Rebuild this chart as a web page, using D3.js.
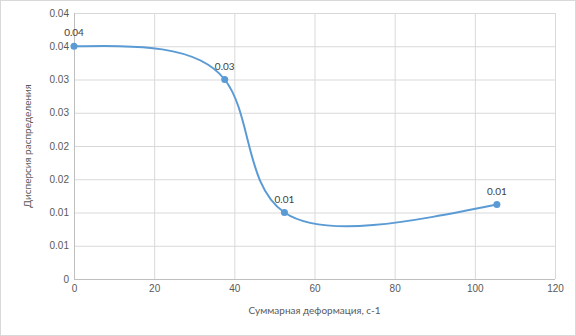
<!DOCTYPE html>
<html>
<head>
<meta charset="utf-8">
<script src="https://d3js.org/d3.v7.min.js"></script>
<style>
  body { margin: 0; background: #fff; }
  svg { font-family: Lato, "Open Sans", sans-serif; }
  .grid line { stroke: #d9d9d9; stroke-width: 1; }
  .grid .domain { display: none; }
  .tick text { fill: #595959; font-size: 10px; }
  .axis-title { fill: #595959; font-size: 10px; }
  .dlabel { fill: #404040; font-size: 10px; }
</style>
</head>
<body>
<script>
// data
var xVals = [0, 37.6, 52.5, 105.5];
var yVals = [0.035, 0.03, 0.01, 0.0112];
var xTicks = [0, 20, 40, 60, 80, 100, 120];
var yTicks = [0, 0.005, 0.01, 0.015, 0.02, 0.025, 0.03, 0.035, 0.04];

var data = xVals.map((x, i) => ({x: x, y: yVals[i]}));

var W = 576, H = 336;
var margin = {top: 13, right: 21, bottom: 57, left: 74};
var width = W - margin.left - margin.right,
    height = H - margin.top - margin.bottom;

var xScale = d3.scaleLinear().domain([0, 120]).range([0, width]);
var yScale = d3.scaleLinear().domain([0, 0.04]).range([height, 0]);

var svg = d3.select('body').append('svg')
  .attr('width', W)
  .attr('height', H);

// chart border
svg.append('rect')
  .attr('x', 0.5).attr('y', 0.5)
  .attr('width', W - 1).attr('height', H - 1)
  .attr('fill', '#fff')
  .attr('stroke', '#d9d9d9');

var g = svg.append('g')
  .attr('transform', `translate(${margin.left}, ${margin.top})`);

// horizontal gridlines + y labels (Excel shows them rounded to 2 places)
var yAxis = d3.axisLeft(yScale)
  .tickValues(yTicks)
  .tickSize(-width)
  .tickPadding(5)
  .tickFormat(d => d === 0 ? '0' : d3.format('.2f')(d + 1e-9));
g.append('g')
  .attr('class', 'grid')
  .call(yAxis);

// vertical gridlines + x labels
var xAxis = d3.axisBottom(xScale)
  .tickValues(xTicks)
  .tickSize(-height)
  .tickPadding(6)
  .tickFormat(d3.format('d'));
g.append('g')
  .attr('class', 'grid')
  .attr('transform', `translate(0, ${height})`)
  .call(xAxis);

// axis lines
g.append('line')
  .attr('x1', 0).attr('x2', width)
  .attr('y1', height + 0.5).attr('y2', height + 0.5)
  .attr('stroke', '#bfbfbf');
g.append('line')
  .attr('x1', 0.5).attr('x2', 0.5)
  .attr('y1', 0).attr('y2', height)
  .attr('stroke', '#bfbfbf');

// smoothed series
var line = d3.line()
  .x(d => xScale(d.x))
  .y(d => yScale(d.y))
  .curve(d3.curveNatural);

g.append('path')
  .datum(data)
  .attr('d', line)
  .attr('fill', 'none')
  .attr('stroke', '#5b9bd5')
  .attr('stroke-width', 2);

g.selectAll('circle')
  .data(data)
  .enter()
  .append('circle')
  .attr('cx', d => xScale(d.x))
  .attr('cy', d => yScale(d.y))
  .attr('r', 3.5)
  .attr('fill', '#5b9bd5');

g.selectAll('.dlabel')
  .data(data)
  .enter()
  .append('text')
  .attr('class', 'dlabel')
  .attr('x', d => xScale(d.x))
  .attr('y', d => yScale(d.y) - 10)
  .attr('text-anchor', 'middle')
  .text(d => d3.format('.2f')(d.y + 1e-9));

// axis titles
svg.append('text')
  .attr('class', 'axis-title')
  .attr('x', margin.left + width / 2)
  .attr('y', 314)
  .attr('text-anchor', 'middle')
  .text('Суммарная деформация, с-1');

svg.append('text')
  .attr('class', 'axis-title')
  .attr('transform', `translate(31, ${margin.top + height / 2}) rotate(-90)`)
  .attr('text-anchor', 'middle')
  .text('Дисперсия распределения');
</script>
</body>
</html>
